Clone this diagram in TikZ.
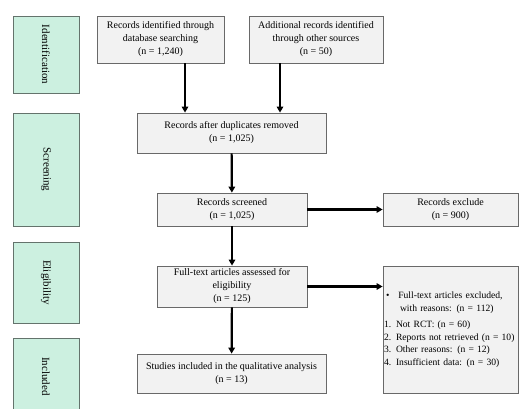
\documentclass[tikz,border=0pt]{standalone}
\usepackage{fontspec}
\setmainfont{Liberation Serif}
\usetikzlibrary{
    shapes,
    positioning,
    calc,
    arrows.meta
}
\definecolor{boxgray}{RGB}{242,242,242}
\definecolor{linegray}{RGB}{105,105,105}
\definecolor{mint}{RGB}{204,240,224}
\definecolor{mintline}{RGB}{100,115,108}
\tikzset{
  basic/.style = {
      draw=linegray,
      line width=0.8pt,
      rectangle,
      fill=boxgray,
      inner sep=0pt,
      font=\fontsize{10}{13}\selectfont,
      align=center
  },
  phase/.style = {
      draw=mintline,
      line width=0.8pt,
      rectangle,
      fill=mint,
      rotate=-90,
      font=\fontsize{11}{13}\selectfont,
      minimum height=66pt
  },
  link/.style = {
      line width=2.2pt,
      -{Triangle[length=6pt,width=6.5pt]}
  }
}

\begin{document}
\begin{tikzpicture}[x=1pt, y=-1pt]
    \useasboundingbox (0,0) rectangle (519,409);
    % Phases
    \node[phase, minimum width=77pt] (ident) at (46,54.5) {Identification};
    \node[phase, minimum width=113pt] (screen) at (46,169.5) {Screening};
    \node[phase, minimum width=81pt] (elig) at (46,282.5) {Eligibility};
    \node[phase, minimum width=77pt] (incl) at (46,376.5) {Included};
    % Nodes
    \node[basic, minimum width=127pt, minimum height=47pt] (dbase) at (160.5,39.5)
        {Records identified through\\database searching\\(n = 1,240)};
    \node[basic, minimum width=134pt, minimum height=47pt] (other) at (316,39.5)
        {Additional records identified\\through other sources\\(n = 50)};
    \node[basic, minimum width=189pt, minimum height=40pt] (dedup) at (231.5,133)
        {Records after duplicates removed\\(n = 1,025)};
    \node[basic, minimum width=150pt, minimum height=33pt] (screened) at (232,209.5)
        {Records screened\\(n = 1,025)};
    \node[basic, minimum width=135pt, minimum height=33pt] (exclude) at (450.5,209.5)
        {Records exclude\\(n = 900)};
    \node[basic, minimum width=150pt, minimum height=41pt] (fulltext) at (232,286.5)
        {Full-text articles assessed for\\eligibility\\(n = 125)};
    \node[basic, minimum width=135pt, minimum height=127pt, text width=133pt,
          align=left, font=\fontsize{9.6}{12.5}\selectfont] (reasons) at (450.5,329.5)
        {\hspace*{2pt}\textbullet\hspace{9pt}Full-text articles excluded,\\
         \hspace*{16pt}with reasons: (n = 112)\\[4pt]
         1. Not RCT: (n = 60)\\
         2. Reports not retrieved (n = 10)\\
         3. Other reasons: (n = 12)\\
         4. Insufficient data: (n = 30)};
    \node[basic, minimum width=189pt, minimum height=39pt] (studies) at (231.5,373.5)
        {Studies included in the qualitative analysis\\(n = 13)};
    % Edges
    \draw[link] ([xshift=24.5pt]dbase.south) -- ([xshift=24.5pt]dbase.south |- dedup.north);
    \draw[link] ([xshift=-36pt]other.south) -- ([xshift=-36pt]other.south |- dedup.north);
    \draw[link] (dedup) -- (screened);
    \draw[link] (screened) -- (exclude);
    \draw[link] (screened) -- (fulltext);
    \draw[link] (fulltext.east) -- (fulltext.east -| reasons.west);
    \draw[link] (fulltext) -- (studies);
\end{tikzpicture}
\end{document}
